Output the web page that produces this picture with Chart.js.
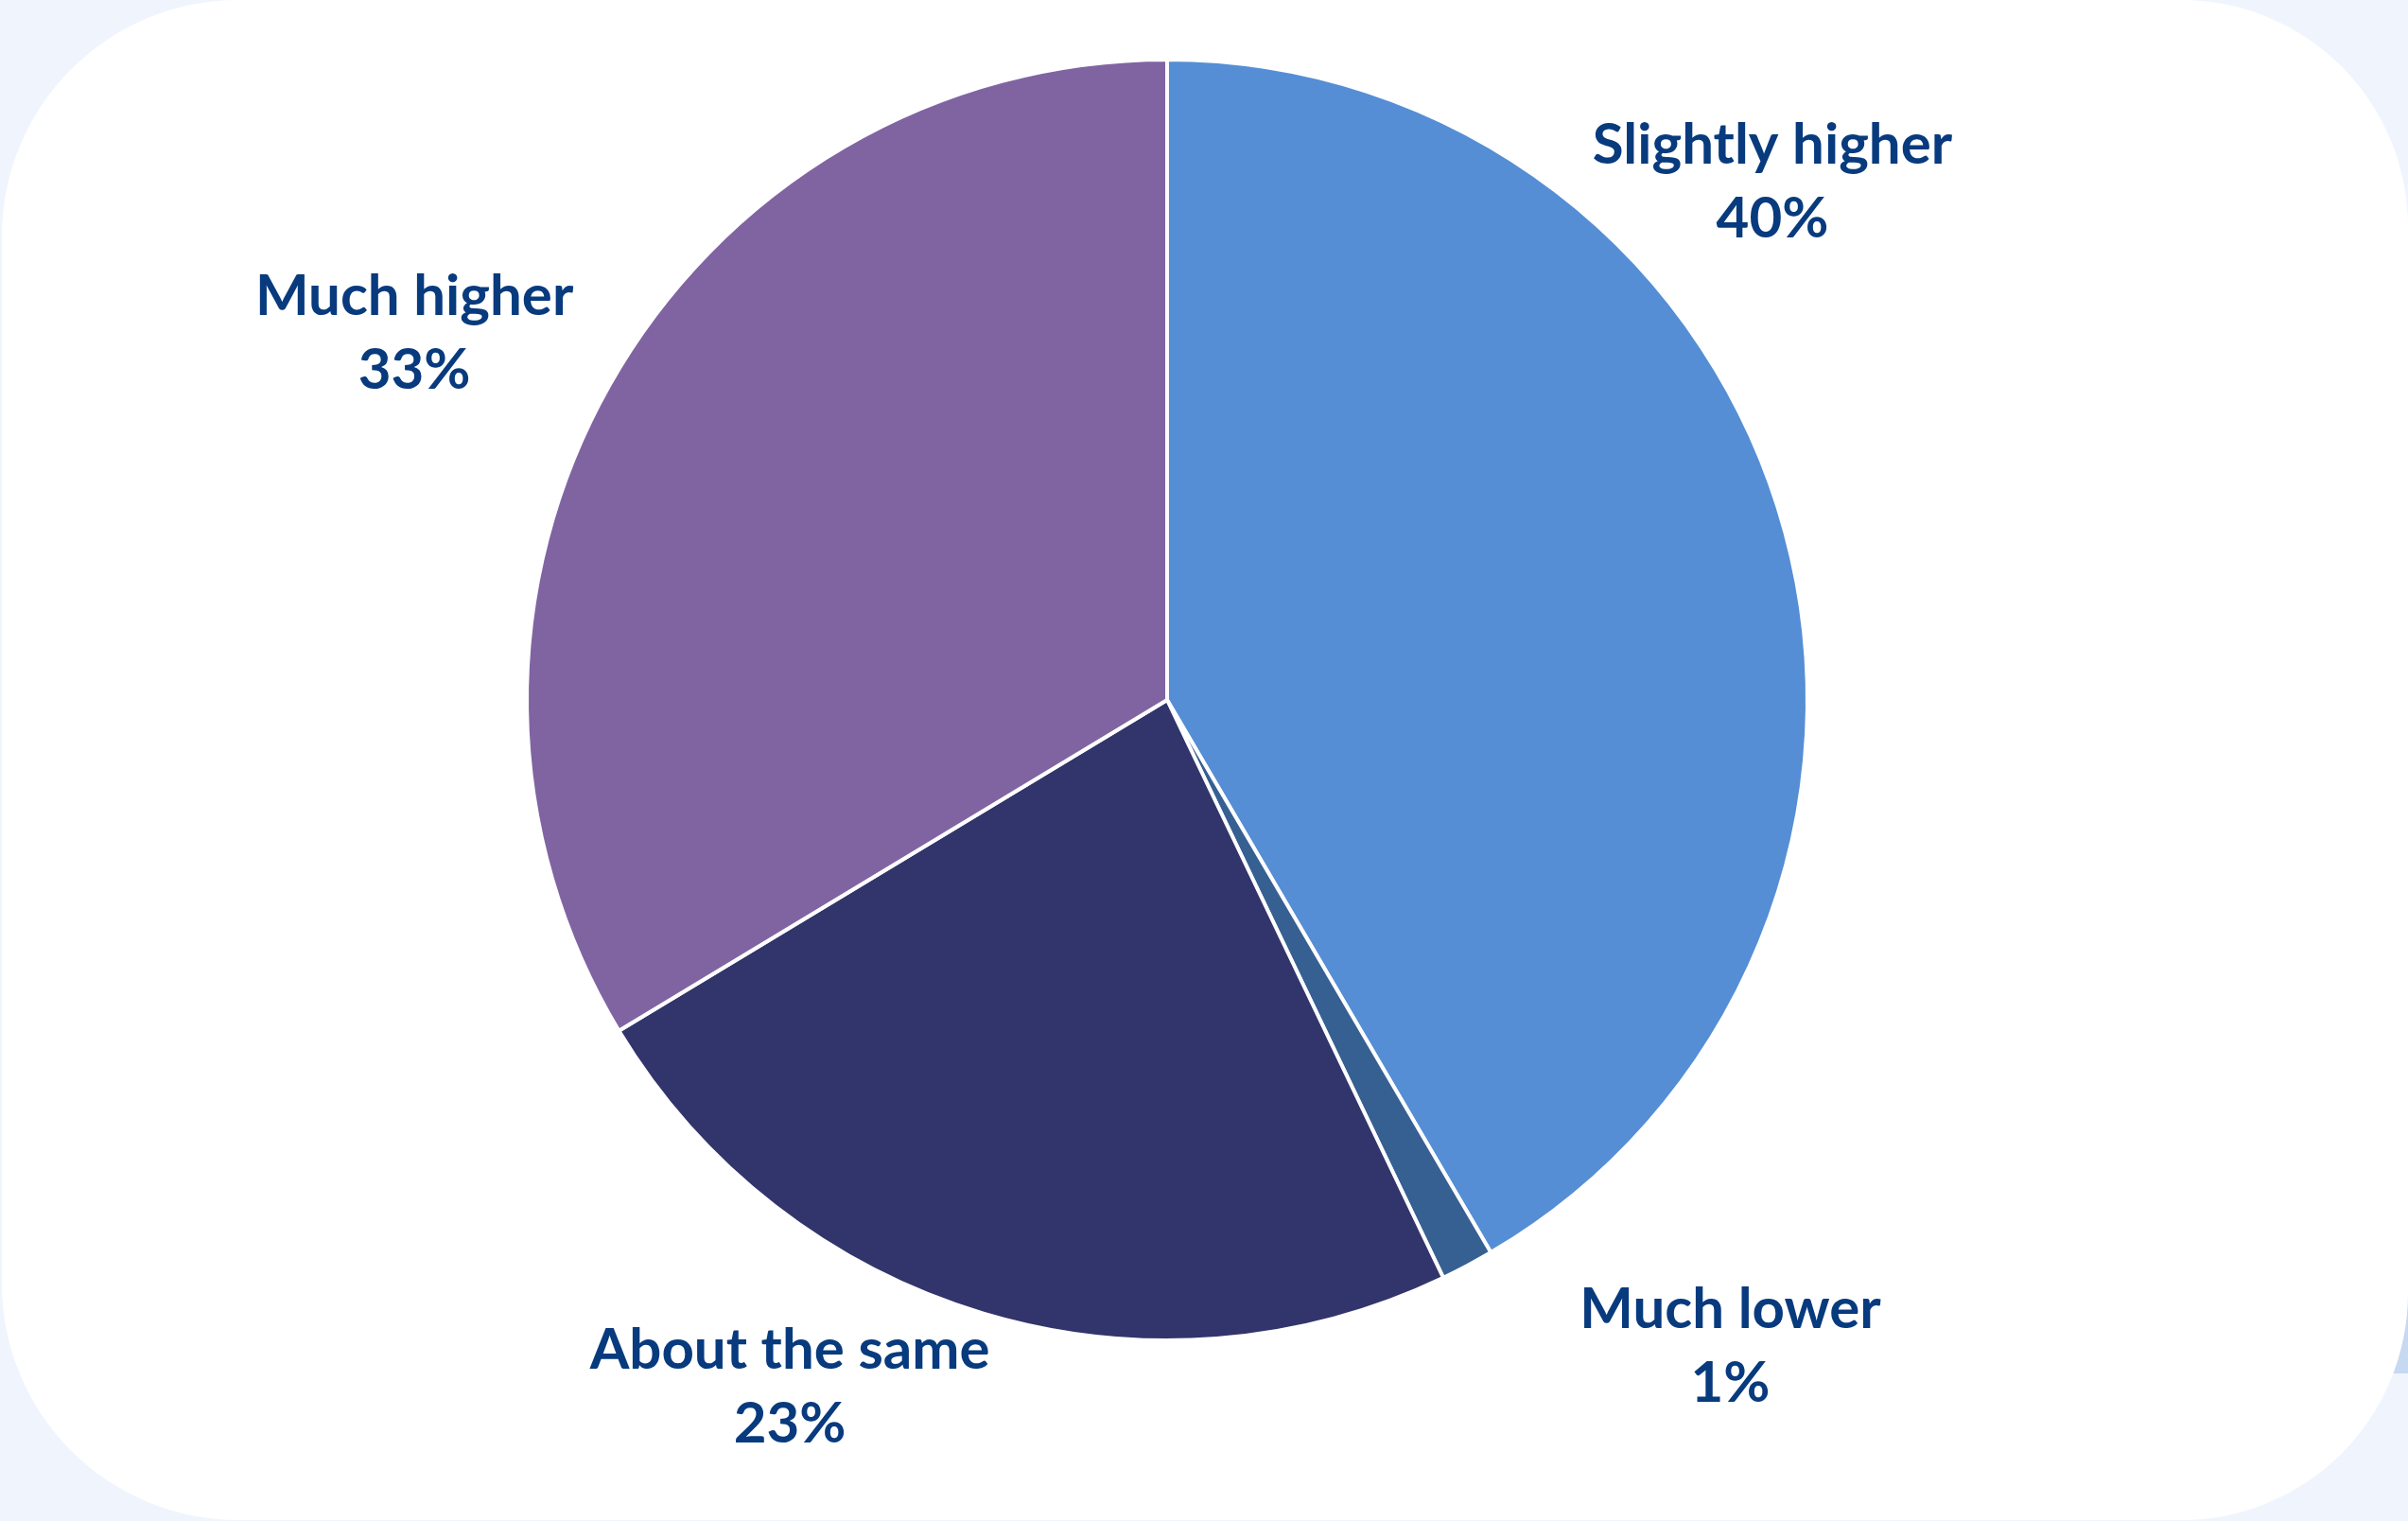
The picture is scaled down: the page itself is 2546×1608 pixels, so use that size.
<!DOCTYPE html>
<html>
<head>
<meta charset="utf-8">
<script src="https://cdn.jsdelivr.net/npm/chart.js@4"></script>
<style>
    html, body { margin: 0; padding: 0; }
    body { width: 2546px; height: 1608px; background: #F0F5FD; position: relative; overflow: hidden; }
    #patch { position: absolute; left: 2440px; top: 1250px; width: 106px; height: 202px; background: #C6D9F1; }
    #card { position: absolute; left: 2px; top: 0; width: 2544px; height: 1607px; background: #ffffff; border-radius: 250px 240px 240px 250px; }
    #pie-canvas { position: absolute; left: 0; top: 0; }
</style>
</head>
<body>
<div id="patch"></div>
<div id="card"></div>
<canvas id="pie-canvas" width="2546" height="1608"></canvas>
<script>
var categories = ['Slightly higher', 'Much lower', 'About the same', 'Much higher'];
// shares in percent, labels show them rounded
var values = [40.4, 1.3, 22.8, 32.7];
var colors = ['#558ED5', '#366092', '#31356B', '#8064A2'];

// where each label sits: angle from 12 o'clock (deg) and distance as a multiple of the radius
var labelAngles = [49.4, 138.9, 208.8, 296.0];
var labelDistance = [1.245, 1.338, 1.223, 1.308];

var sliceLabels = {
    id: 'sliceLabels',
    afterDatasetsDraw: function (chart) {
        var ctx = chart.ctx;
        var meta = chart.getDatasetMeta(0);
        ctx.save();
        ctx.fillStyle = '#083A7E';
        ctx.font = 'bold 60px Lato';
        ctx.textAlign = 'center';
        ctx.textBaseline = 'middle';
        meta.data.forEach(function (arc, i) {
            var a = labelAngles[i] * Math.PI / 180;
            var d = arc.outerRadius * labelDistance[i];
            var x = arc.x + Math.sin(a) * d;
            var y = arc.y - Math.cos(a) * d;
            ctx.fillText(chart.data.labels[i], x, y - 38);
            ctx.fillText(Math.round(chart.data.datasets[0].data[i]) + '%', x, y + 40);
        });
        ctx.restore();
    }
};

var pieConfig = {
    type: 'pie',
    data: {
        labels: categories,
        datasets: [{
            data: values,
            backgroundColor: colors,
            borderColor: '#ffffff',
            borderWidth: 4
        }]
    },
    options: {
        responsive: false,
        animation: false,
        layout: {
            padding: { top: 61, bottom: 189, left: 0, right: 78 }
        },
        plugins: {
            legend: { display: false },
            tooltip: { enabled: false }
        }
    },
    plugins: [sliceLabels]
};

var ctx = document.getElementById('pie-canvas').getContext('2d');
window.myPie = new Chart(ctx, pieConfig);
</script>
</body>
</html>
